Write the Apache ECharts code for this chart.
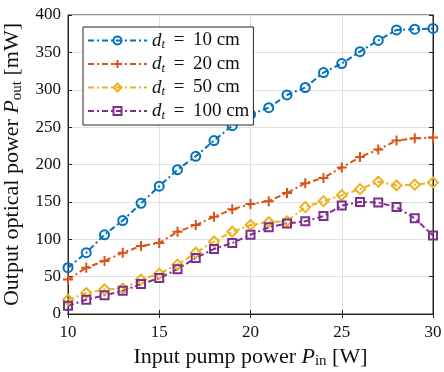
<!DOCTYPE html>
<html><head><meta charset="utf-8">
<script src="https://cdn.jsdelivr.net/npm/echarts@6/dist/echarts.min.js"></script>
<style>html,body{margin:0;padding:0;background:#fff}#c{width:444px;height:372px}</style>
</head><body><div id="c"></div>
<script>
const pumpPower = [10,11,12,13,14,15,16,17,18,19,20,21,22,23,24,25,26,27,28,29,30];
const seriesNames = ['10 cm','20 cm','50 cm','100 cm'];
const d10 = [62,82,106,125,148,171,193,211,232,252,267,276,293,303,323,335,351,366,380,381,382];
const d20 = [46,62,71,82,91,95,110,119,130,140,147,151,162,175,182,196,210,220,232,235,236];
const d50 = [19,28,33,34,46,54,66,82,97,110,119,123,124,143,151,159,167,177,172,173,176];
const d100 = [11,19,25,31,40,48,60,75,87,95,106,116,121,124,131,145,150,149,143,128,105];
const xTicks = [10,15,20,25,30];
const yTicks = [0,50,100,150,200,250,300,350,400];

const colors = ['#0072BD','#D95319','#EDB120','#7E2F8E'];
const symbols = ['circle','path://M0,-1L0,1M-1,0L1,0','diamond','rect'];
const sizes = [9,10,10,8];
const dataSets = [d10,d20,d50,d100];
const FONT = '"Liberation Serif","DejaVu Serif",serif';
const dash = [6,3,2,3];

const series = dataSets.map((arr,i)=>({
  name: 'd_t = ' + seriesNames[i],
  type: 'line',
  data: arr.map((v,j)=>[pumpPower[j], v]),
  symbol: symbols[i],
  symbolSize: sizes[i],
  showSymbol: true,
  lineStyle: {color: colors[i], width: 2, type: dash},
  itemStyle: {color: i===1 ? colors[i] : 'rgba(255,255,255,0)', borderColor: colors[i], borderWidth: 2},
  emphasis: {disabled: true},
  animation: false,
  z: 3
}));

const chart = echarts.init(document.getElementById('c'), null, {renderer:'canvas'});
chart.setOption({
  animation: false,
  grid: {left: 68, right: 11, top: 15, bottom: 58, show: true, borderColor: '#262626', borderWidth: 1, backgroundColor: '#fff', outerBoundsMode: 'none', containLabel: false},
  legend: {
    show: true, orient: 'vertical', left: 83, top: 27,
    backgroundColor: '#fff', borderColor: '#262626', borderWidth: 1,
    padding: [4,4,3,4], itemGap: 3, itemWidth: 59, itemHeight: 10,
    textStyle: {fontFamily: FONT, fontSize: 19, color: '#111', padding: [0,0,0,0],
      rich: {i:{fontFamily: FONT, fontStyle:'italic', fontSize:19}, s:{fontFamily: FONT, fontStyle:'italic', fontSize:13, padding:[9,0,0,0]}, n:{fontFamily: FONT, fontSize:19}}},
    formatter: name => '{i|d}{s|t}{n|\u2009 = \u2009' + name.replace('d_t = ','') + '}',
    data: series.map(s=>s.name)
  },
  xAxis: [{
    type: 'value', min: 10, max: 30, interval: 5,
    name: 'Input pump power {i|P}{s|in} [W]', nameLocation: 'middle', nameGap: 31,
    nameTextStyle: {fontFamily: FONT, fontSize: 22, color: '#111',
      rich:{i:{fontFamily: FONT, fontStyle:'italic', fontSize:22}, s:{fontFamily: FONT, fontSize:15, padding:[9,0,0,0]}}},
    axisLine: {show: true, lineStyle: {color: '#262626'}},
    axisTick: {show: true, inside: true, length: 4, lineStyle:{color:'#262626'}},
    axisLabel: {fontFamily: FONT, fontSize: 17, color: '#111', margin: 10,
      formatter: v => xTicks.includes(v) ? String(v) : ''},
    splitLine: {show: true, lineStyle: {color: '#e0e0e0', width: 1}}
  },{
    type: 'value', min: 10, max: 30, interval: 5, position: 'top',
    axisLine: {show: true, lineStyle: {color: '#262626'}},
    axisTick: {show: true, inside: true, length: 4, lineStyle:{color:'#262626'}},
    axisLabel: {show: false}, splitLine: {show: false}
  }],
  yAxis: [{
    type: 'value', min: 0, max: 400, interval: 50,
    name: 'Output optical power {i|P}{s|out} [mW]', nameLocation: 'middle', nameGap: 43,
    nameTextStyle: {fontFamily: FONT, fontSize: 22, color: '#111',
      rich:{i:{fontFamily: FONT, fontStyle:'italic', fontSize:22}, s:{fontFamily: FONT, fontSize:15, padding:[9,0,0,0]}}},
    axisLine: {show: true, lineStyle: {color: '#262626'}},
    axisTick: {show: true, inside: true, length: 4, lineStyle:{color:'#262626'}},
    axisLabel: {fontFamily: FONT, fontSize: 17, color: '#111', margin: 7,
      formatter: v => yTicks.includes(v) ? String(v) : ''},
    splitLine: {show: true, lineStyle: {color: '#e0e0e0', width: 1}}
  },{
    type: 'value', min: 0, max: 400, interval: 50, position: 'right',
    axisLine: {show: true, lineStyle: {color: '#262626'}},
    axisTick: {show: true, inside: true, length: 4, lineStyle:{color:'#262626'}},
    axisLabel: {show: false}, splitLine: {show: false}
  }],
  series: series
});
</script></body></html>
